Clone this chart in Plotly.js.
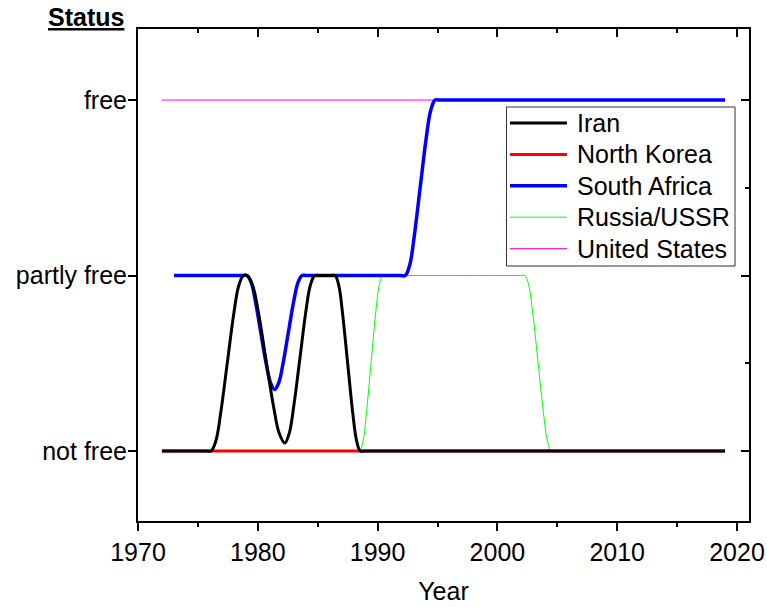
<!DOCTYPE html>
<html>
<head>
<meta charset="utf-8">
<script src="https://cdn.plot.ly/plotly-3.0.1.min.js"></script>
<style>html,body{margin:0;padding:0;background:#fff;}#chart{width:767px;height:607px;}</style>
</head>
<body>
<div id="chart"></div>
<script>
// Status levels: 0 = not free, 1 = partly free, 2 = free
const statusTickVals = [0, 1, 2];
const statusTickText = ['not free', 'partly free', 'free'];

const iranYears = [1972, 1975.7, 1976.1, 1976.51, 1976.91, 1977.45, 1977.99, 1978.40, 1978.8, 1979.1, 1979.57, 1980.05, 1980.68, 1981.31, 1981.78, 1982.25, 1982.63, 1983.0, 1983.5, 1984.0, 1984.38, 1984.75, 1985.15, 1986.05, 1986.45, 1986.77, 1987.08, 1987.5, 1987.92, 1988.24, 1988.55, 1988.95, 2019];
const iranStatus = [0, 0, 0, 0.06, 0.22, 0.5, 0.78, 0.94, 1, 1, 0.943, 0.79, 0.52, 0.255, 0.102, 0.045, 0.102, 0.255, 0.52, 0.79, 0.943, 1, 1, 1, 1, 0.94, 0.78, 0.5, 0.22, 0.06, 0, 0, 0];

const northKoreaYears = [1972, 2019];
const northKoreaStatus = [0, 0];

const southAfricaYears = [1973, 1978.7, 1979.1, 1979.45, 1979.79, 1980.25, 1980.71, 1981.06, 1981.4, 1981.75, 1982.09, 1982.55, 1983.01, 1983.36, 1983.7, 1984.1, 1991.9, 1992.3, 1992.68, 1993.05, 1993.55, 1994.05, 1994.43, 1994.8, 1995.2, 2019];
const southAfricaStatus = [1, 1, 1, 0.961, 0.857, 0.675, 0.493, 0.389, 0.35, 0.389, 0.493, 0.675, 0.857, 0.961, 1, 1, 1, 1, 1.06, 1.22, 1.5, 1.78, 1.94, 2, 2, 2];

const russiaYears = [1972, 1988.1, 1988.5, 1988.79, 1989.07, 1989.45, 1989.83, 1990.12, 1990.4, 1990.8, 2001.9, 2002.3, 2002.63, 2002.96, 2003.4, 2003.84, 2004.17, 2004.5, 2004.9, 2019];
const russiaStatus = [0, 0, 0, 0.06, 0.22, 0.5, 0.78, 0.94, 1, 1, 1, 1, 0.94, 0.78, 0.5, 0.22, 0.06, 0, 0, 0];

const usYears = [1972, 2019];
const usStatus = [2, 2];

// legend order (top to bottom)
const seriesNames = ['Iran', 'North Korea', 'South Africa', 'Russia/USSR', 'United States'];
const seriesColors = ['#000000', '#ff0000', '#0000ff', '#00ff00', '#ff00ff'];
const seriesWidths = [3, 3, 3.5, 1, 1];
const seriesX = [iranYears, northKoreaYears, southAfricaYears, russiaYears, usYears];
const seriesY = [iranStatus, northKoreaStatus, southAfricaStatus, russiaStatus, usStatus];

const FONT = 'Liberation Sans, Arial, sans-serif';
const W = 767, H = 607, ML = 138, MR = 18, MT = 29, MB = 86;
const PW = W - ML - MR, PH = H - MT - MB;
const px2x = p => (p - ML) / PW;
const py2y = p => (H - MB - p) / PH;

// drawing order bottom -> top: United States, Russia, South Africa, North Korea, Iran
const drawOrder = [4, 3, 2, 1, 0];
const data = drawOrder.map(i => ({
  type: 'scatter', mode: 'lines', name: seriesNames[i], x: seriesX[i], y: seriesY[i],
  line: {color: seriesColors[i], width: seriesWidths[i], shape: 'spline', smoothing: 1},
  hoverinfo: 'skip', showlegend: false
}));
data.push({type: 'scatter', x: [], y: [], xaxis: 'x2', yaxis: 'y2', showlegend: false, hoverinfo: 'skip'});

// legend drawn as layout shapes/annotations
const legBox = {x0: 506.5, x1: 735, y0: 107, y1: 266};
const legRow0 = 123, legRowStep = 31.4, legLineX0 = 510, legLineX1 = 567, legTextX = 575;
const shapes = [{
  type: 'rect', xref: 'paper', yref: 'paper', layer: 'above',
  x0: px2x(legBox.x0), x1: px2x(legBox.x1), y0: py2y(legBox.y1), y1: py2y(legBox.y0),
  line: {color: '#333', width: 1}, fillcolor: '#fff'
}];
const annotations = [{
  xref: 'paper', yref: 'paper', x: px2x(86), y: py2y(17), xanchor: 'center', yanchor: 'middle',
  text: '<b><u>Status</u></b>', showarrow: false, font: {family: FONT, size: 25, color: '#000'}
}];
seriesNames.forEach((name, i) => {
  const yy = py2y(legRow0 + i * legRowStep);
  shapes.push({type: 'line', xref: 'paper', yref: 'paper', layer: 'above',
    x0: px2x(legLineX0), x1: px2x(legLineX1), y0: yy, y1: yy,
    line: {color: seriesColors[i], width: seriesWidths[i]}});
  annotations.push({xref: 'paper', yref: 'paper', x: px2x(legTextX), y: yy, xanchor: 'left', yanchor: 'middle',
    text: name, showarrow: false, font: {family: FONT, size: 25, color: '#000'}});
});

const xRange = [1970, 2021];
const yRange = [-0.399, 2.405];

const layout = {
  width: W, height: H,
  margin: {l: ML, r: MR, t: MT, b: MB},
  paper_bgcolor: '#fff', plot_bgcolor: '#fff',
  font: {family: FONT, size: 25, color: '#000'},
  showlegend: false,
  xaxis: {
    range: xRange, tick0: 1970, dtick: 10, ticks: 'outside', ticklen: 8, tickwidth: 2, tickcolor: '#000',
    showline: true, linewidth: 2, linecolor: '#000', showgrid: false, zeroline: false,
    tickfont: {family: FONT, size: 25},
    minor: {dtick: 5, tick0: 1970, ticks: 'outside', ticklen: 4, tickwidth: 2, tickcolor: '#000', showgrid: false},
    title: {text: 'Year', font: {family: FONT, size: 25}, standoff: 17}
  },
  xaxis2: {
    overlaying: 'x', side: 'top', range: xRange, tick0: 1970, dtick: 10, ticks: 'inside', ticklen: 8, tickwidth: 2, tickcolor: '#000',
    showline: true, linewidth: 2, linecolor: '#000', showgrid: false, zeroline: false, showticklabels: false,
    minor: {dtick: 5, tick0: 1970, ticks: 'inside', ticklen: 4, tickwidth: 2, tickcolor: '#000', showgrid: false}
  },
  yaxis: {
    range: yRange, tickmode: 'array', tickvals: statusTickVals, ticktext: statusTickText,
    ticks: 'outside', ticklen: 8, tickwidth: 2, tickcolor: '#000',
    showline: true, linewidth: 2, linecolor: '#000', showgrid: false, zeroline: false,
    tickfont: {family: FONT, size: 25}, ticklabelstandoff: -4
  },
  yaxis2: {
    overlaying: 'y', side: 'right', range: yRange, tick0: 0, dtick: 1, ticks: 'inside', ticklen: 8, tickwidth: 2, tickcolor: '#000',
    showline: true, linewidth: 2, linecolor: '#000', showgrid: false, zeroline: false, showticklabels: false,
    minor: {dtick: 0.5, tick0: 0, ticks: 'inside', ticklen: 4, tickwidth: 2, tickcolor: '#000', showgrid: false}
  },
  shapes: shapes,
  annotations: annotations
};

Plotly.newPlot('chart', data, layout, {staticPlot: true, displayModeBar: false});
</script>
</body>
</html>
